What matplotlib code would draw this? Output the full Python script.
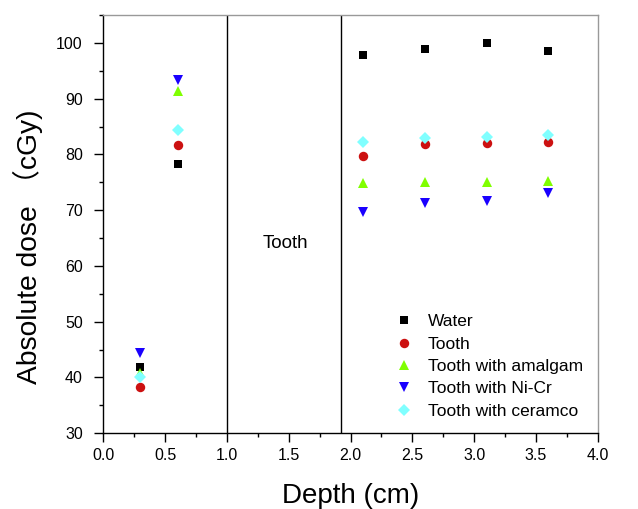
import matplotlib
matplotlib.use("Agg")
import matplotlib.pyplot as plt
from matplotlib.ticker import MultipleLocator

plt.rcParams['font.family'] = ['Liberation Sans', 'Noto Sans CJK SC', 'DejaVu Sans']

series_names = ["Water", "Tooth", "Tooth with amalgam", "Tooth with Ni-Cr", "Tooth with ceramco"]
depths = [0.3, 0.6, 2.1, 2.6, 3.1, 3.6]
water = [41.9, 78.2, 97.9, 98.9, 100.0, 98.6]
tooth = [38.2, 81.6, 79.7, 81.9, 82.0, 82.2]
amalgam = [40.8, 91.3, 74.9, 75.1, 75.1, 75.3]
nicr = [44.4, 93.4, 69.6, 71.2, 71.7, 73.1]
ceramco = [40.0, 84.3, 82.2, 83.0, 83.1, 83.4]
boundaries = [1.0, 1.92]
region_label = "Tooth"

colors = ["#000000", "#cc1111", "#80ff00", "#1a00ff", "#80ffff"]
markers = ["s", "o", "^", "v", "D"]
msizes = [5.5, 6.8, 7.0, 7.0, 6.6]

fig = plt.figure(figsize=(6.38, 5.09), dpi=100)
ax = fig.add_axes([0.162, 0.149, 0.775, 0.8215])

for name, vals, c, m, ms in zip(series_names, [water, tooth, amalgam, nicr, ceramco], colors, markers, msizes):
    ax.plot(depths, vals, linestyle="none", marker=m, color=c, markersize=ms,
            markeredgewidth=0, label=name)

for b in boundaries:
    ax.axvline(b, color="black", linewidth=1.0, zorder=0)

ax.text(1.47, 64.1, region_label, fontsize=13.5, ha="center", va="center")

ax.set_xlim(0, 4.0)
ax.set_ylim(30, 105)
ax.xaxis.set_major_locator(MultipleLocator(0.5))
ax.xaxis.set_minor_locator(MultipleLocator(0.25))
ax.yaxis.set_major_locator(MultipleLocator(10))
ax.yaxis.set_minor_locator(MultipleLocator(5))
ax.set_yticks([30, 40, 50, 60, 70, 80, 90, 100])
ax.tick_params(which="major", direction="out", length=6.3, width=1, labelsize=11.5, top=False, right=False)
ax.tick_params(which="minor", direction="out", length=3, width=1, top=False, right=False)
ax.tick_params(axis="x", which="major", pad=4.5)
ax.tick_params(axis="y", which="major", pad=8.5)
for s in ["left", "bottom"]:
    ax.spines[s].set_color("black")
    ax.spines[s].set_linewidth(1.0)
for s in ["top", "right"]:
    ax.spines[s].set_color("#999999")
    ax.spines[s].set_linewidth(1.0)

ax.set_xlabel("Depth (cm)", fontsize=20, labelpad=14.5)
ax.set_ylabel("Absolute dose （cGy)", fontsize=20.3)
ax.yaxis.set_label_coords(-0.153, 0.445)
ax.yaxis.label.set_va("center")

leg = ax.legend(loc="upper left", bbox_to_anchor=(0.59, 0.285), frameon=False,
                fontsize=12.5, handlelength=1.0, handletextpad=0.9,
                labelspacing=0.42, borderpad=0, borderaxespad=0)

fig.savefig("out.png", dpi=100)
